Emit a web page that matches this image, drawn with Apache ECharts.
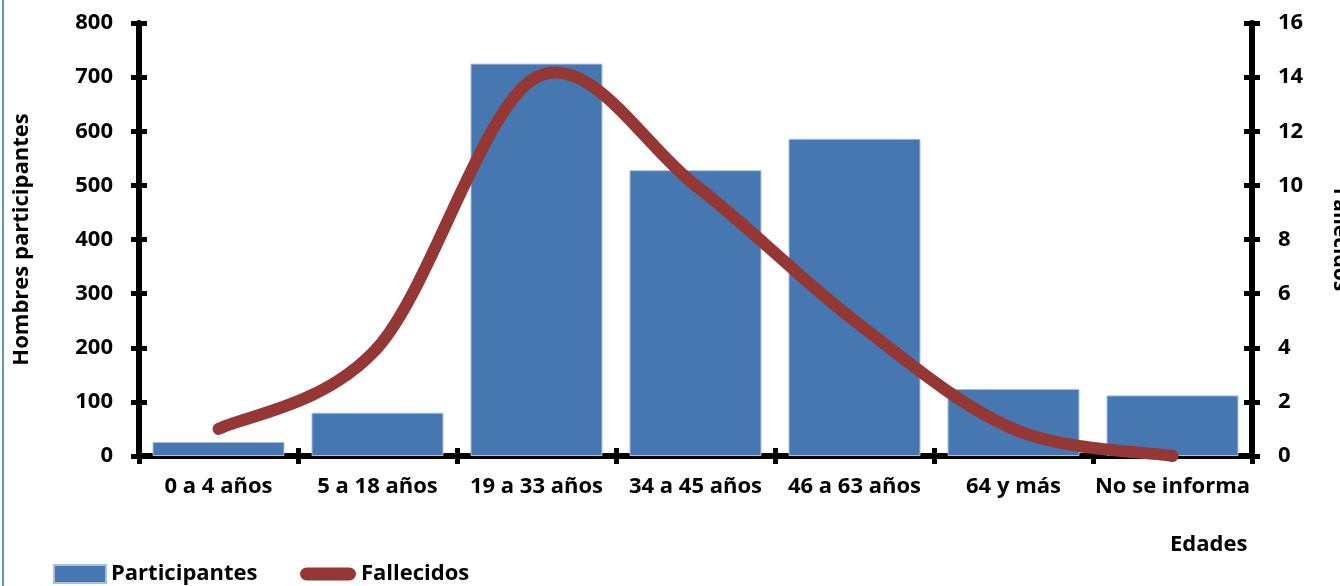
<!DOCTYPE html>
<html>
<head>
<meta charset="utf-8">
<script src="https://cdn.jsdelivr.net/npm/echarts@6/dist/echarts.min.js"></script>
<style>
  html, body { margin: 0; padding: 0; background: #fff; }
  #chart { width: 1340px; height: 586px; }
</style>
</head>
<body>
<div id="chart"></div>
<script>
// datos
var edades = ['0 a 4 años', '5 a 18 años', '19 a 33 años', '34 a 45 años', '46 a 63 años', '64 y más', 'No se informa']
var participantes = [26, 80, 725, 528, 586, 124, 112]
var fallecidos = [1, 4, 14, 10, 5, 1, 0]

var fontFam = "'Open Sans', 'DejaVu Sans', sans-serif"
var txt = { color: '#000', fontWeight: 'bold', fontSize: 22, fontFamily: fontFam }
var axisBlack = { lineStyle: { color: '#000', width: 6 } }
var tickBlack = { lineStyle: { color: '#000', width: 5 } }
var rojo = '#943735'

var chart = echarts.init(document.getElementById('chart'))

// curva suavizada tipo Excel (Catmull-Rom) sobre las coordenadas del eje
function renderCurva (params, api) {
  var i = params.dataIndex
  var n = fallecidos.length
  if (i >= n - 1) return null
  var pt = function (k) {
    k = Math.max(0, Math.min(n - 1, k))
    return api.coord([k, fallecidos[k]])
  }
  var p0 = pt(i - 1), p1 = pt(i), p2 = pt(i + 1), p3 = pt(i + 2)
  return {
    type: 'bezierCurve',
    shape: {
      x1: p1[0], y1: p1[1],
      x2: p2[0], y2: p2[1],
      cpx1: p1[0] + (p2[0] - p0[0]) / 6,
      cpy1: p1[1] + (p2[1] - p0[1]) / 6,
      cpx2: p2[0] - (p3[0] - p1[0]) / 6,
      cpy2: p2[1] - (p3[1] - p1[1]) / 6
    },
    style: { stroke: rojo, lineWidth: 12, fill: null, lineCap: 'round' }
  }
}

var option = {
  animation: false,
  grid: { left: 139, right: 88, top: 23, bottom: 130, containLabel: false, outerBoundsMode: 'none' },
  graphic: [
    { type: 'rect', left: 2, top: 0, shape: { width: 2, height: 586 }, style: { fill: '#6590c8' } }
  ],
  title: {
    text: 'Edades',
    left: 1165,
    top: 529,
    textStyle: txt
  },
  legend: [
    {
      data: ['Participantes'],
      left: 53,
      top: 563,
      padding: 0,
      icon: 'rect',
      itemWidth: 52,
      itemHeight: 18,
      textStyle: txt
    },
    {
      data: ['Fallecidos'],
      left: 300,
      top: 563,
      padding: 0,
      icon: 'path://M6.5,0 H49.5 A6.5,6.5 0 0 1 49.5,13 H6.5 A6.5,6.5 0 0 1 6.5,0 Z',
      itemWidth: 56,
      itemHeight: 13,
      itemStyle: { color: rojo },
      textStyle: txt
    }
  ],
  xAxis: [
    {
      type: 'category',
      data: edades,
      boundaryGap: true,
      axisLine: axisBlack,
      axisTick: { show: true, inside: false, length: 8, lineStyle: tickBlack.lineStyle },
      axisLabel: Object.assign({ margin: 20, interval: 0 }, txt)
    },
    {
      // solo para las marcas hacia dentro
      type: 'category',
      position: 'bottom',
      data: edades,
      boundaryGap: true,
      axisLine: { show: false },
      axisTick: { show: true, inside: true, length: 8, lineStyle: tickBlack.lineStyle },
      axisLabel: { show: false }
    }
  ],
  yAxis: [
    {
      type: 'value',
      min: 0,
      max: 800,
      interval: 100,
      position: 'left',
      name: 'Hombres participantes',
      nameLocation: 'middle',
      nameGap: 106,
      nameTextStyle: txt,
      axisLine: Object.assign({ show: true }, axisBlack),
      axisTick: { show: true, length: 8, lineStyle: tickBlack.lineStyle },
      axisLabel: Object.assign({ margin: 26 }, txt),
      splitLine: { show: false }
    },
    {
      type: 'value',
      min: 0,
      max: 16,
      interval: 2,
      position: 'right',
      name: 'Fallecidos',
      nameLocation: 'middle',
      nameRotate: -90,
      nameGap: 77,
      nameTextStyle: Object.assign({}, txt, { fontSize: 21 }),
      axisLine: Object.assign({ show: true }, axisBlack),
      axisTick: { show: true, length: 8, lineStyle: tickBlack.lineStyle },
      axisLabel: Object.assign({ margin: 26 }, txt),
      splitLine: { show: false }
    },
    {
      type: 'value',
      min: 0,
      max: 800,
      interval: 100,
      position: 'left',
      axisLine: { show: false },
      axisTick: { show: true, inside: true, length: 8, lineStyle: tickBlack.lineStyle },
      axisLabel: { show: false },
      splitLine: { show: false }
    },
    {
      type: 'value',
      min: 0,
      max: 16,
      interval: 2,
      position: 'right',
      axisLine: { show: false },
      axisTick: { show: true, inside: true, length: 8, lineStyle: tickBlack.lineStyle },
      axisLabel: { show: false },
      splitLine: { show: false }
    }
  ],
  series: [
    {
      name: 'Participantes',
      type: 'bar',
      xAxisIndex: 0,
      yAxisIndex: 0,
      barCategoryGap: '17%',
      itemStyle: { color: '#4677b1', borderColor: '#a8bfdf', borderWidth: 1 },
      data: participantes,
      z: 1
    },
    {
      name: 'Fallecidos',
      type: 'custom',
      xAxisIndex: 0,
      yAxisIndex: 1,
      renderItem: renderCurva,
      itemStyle: { color: rojo },
      encode: { x: 0, y: 1 },
      data: fallecidos.map(function (v, i) { return [i, v] }),
      clip: false,
      z: 3
    }
  ]
}

chart.setOption(option)
</script>
</body>
</html>
